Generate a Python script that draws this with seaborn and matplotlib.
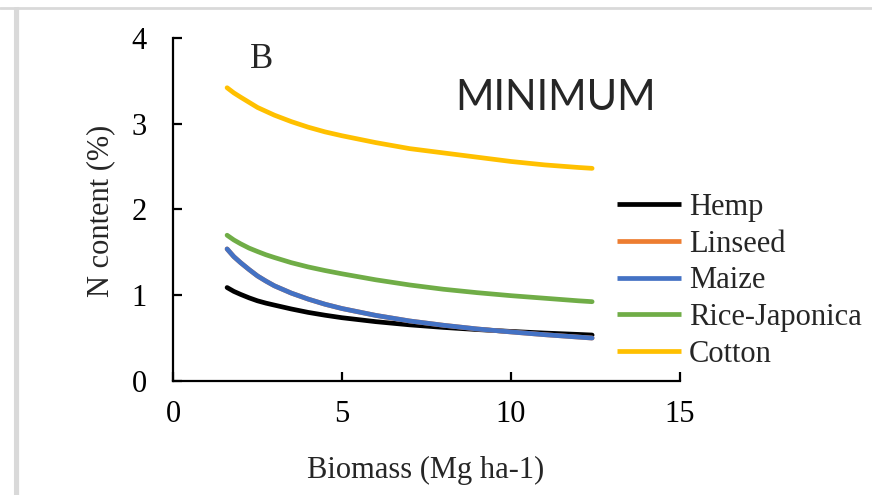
import numpy as np
import pandas as pd
import matplotlib
matplotlib.use("Agg")
import matplotlib.pyplot as plt
from matplotlib.lines import Line2D
import seaborn as sns

# ---- data ----
biomass = [1.6, 1.8, 2.0, 2.25, 2.5, 2.75, 3.0, 3.5, 4.0, 4.5, 5.0, 6.0, 7.0, 8.0, 9.0, 10.0, 11.0, 12.0, 12.4]
hemp = [1.09, 1.045, 1.01, 0.97, 0.935, 0.908, 0.885, 0.840, 0.80, 0.767, 0.738, 0.692, 0.655, 0.625, 0.600, 0.578, 0.559, 0.543, 0.536]
linseed = [1.54, 1.45, 1.38, 1.30, 1.225, 1.165, 1.11, 1.025, 0.955, 0.895, 0.845, 0.765, 0.700, 0.650, 0.607, 0.572, 0.540, 0.512, 0.501]
maize = [1.54, 1.45, 1.38, 1.30, 1.225, 1.165, 1.11, 1.025, 0.955, 0.895, 0.845, 0.765, 0.700, 0.650, 0.607, 0.572, 0.540, 0.512, 0.501]
rice_japonica = [1.70, 1.645, 1.60, 1.55, 1.51, 1.472, 1.44, 1.38, 1.33, 1.288, 1.25, 1.18, 1.12, 1.07, 1.03, 0.995, 0.965, 0.935, 0.925]
cotton = [3.42, 3.36, 3.31, 3.25, 3.19, 3.145, 3.10, 3.025, 2.96, 2.905, 2.86, 2.78, 2.71, 2.66, 2.61, 2.56, 2.52, 2.49, 2.48]

series_names = ["Hemp", "Linseed", "Maize", "Rice-Japonica", "Cotton"]
series_colors = ["#000000", "#ED7D31", "#4472C4", "#70AD47", "#FFC000"]
x_ticks = [0, 5, 10, 15]
y_ticks = [0, 1, 2, 3, 4]

df = pd.concat([
    pd.DataFrame({"Biomass": biomass, "N": vals, "Crop": name})
    for name, vals in zip(series_names, [hemp, linseed, maize, rice_japonica, cotton])
], ignore_index=True)

sns.set_style("white")
plt.rcParams["font.family"] = ["Liberation Serif", "DejaVu Serif"]

W, H = 872, 495
fig = plt.figure(figsize=(W / 100, H / 100), dpi=100)
ax = fig.add_axes([173 / W, 1 - 381 / H, 507 / W, 343 / H])

sns.lineplot(data=df, x="Biomass", y="N", hue="Crop", hue_order=series_names,
             palette=series_colors, linewidth=3.4, legend=False, ax=ax,
             solid_capstyle="round", solid_joinstyle="round")

ax.set_xlim(0, 15)
ax.set_ylim(0, 4)
ax.set_xticks(x_ticks)
ax.set_yticks(y_ticks)
ax.set_xticklabels([str(t) for t in x_ticks])
ax.set_yticklabels([str(t) for t in y_ticks])
ax.set_xlabel("")
ax.set_ylabel("")
for s in ["top", "right"]:
    ax.spines[s].set_visible(False)
for s in ["left", "bottom"]:
    ax.spines[s].set_color("black")
    ax.spines[s].set_linewidth(1.6)
ax.tick_params(axis="both", which="major", bottom=True, left=True, direction="in",
               length=6.5, width=1.6, color="black", labelsize=22, labelcolor="black")
ax.tick_params(axis="x", pad=14)
ax.tick_params(axis="y", pad=19)

fs = 22
fig.text(426 / W, 1 - 478 / H, "Biomass (Mg ha-1)", ha="center", va="baseline", fontsize=fs)
fig.text(101 / W, 1 - 211 / H, "N content (%)", ha="center", va="center", rotation=90, fontsize=fs)
fig.text(250 / W, 1 - 68 / H, "B", ha="left", va="baseline", fontsize=25)
fig.text(455 / W, 1 - 110 / H, "MINIMUM", ha="left", va="baseline", fontsize=30,
         family=["Lato", "DejaVu Sans"])

handles = ax.get_lines()[:len(series_names)]
leg = ax.legend(handles, series_names, loc="upper left",
                bbox_to_anchor=(617 / W, 1 - 193 / H), bbox_transform=fig.transFigure,
                frameon=False, fontsize=fs, handlelength=2.1, handletextpad=0.25,
                labelspacing=0.25, borderpad=0, borderaxespad=0)
for lh in leg.get_lines():
    lh.set_linewidth(3.4)
    lh.set_solid_capstyle("butt")

# surrounding grey frame lines of the original screenshot
grey = "#d9d9d9"
fig.add_artist(Line2D([0, 1], [1 - 8 / H, 1 - 8 / H], transform=fig.transFigure, color=grey, lw=2))
fig.add_artist(Line2D([14.5 / W, 14.5 / W], [0, 1 - 8 / H], transform=fig.transFigure, color=grey, lw=2.2))
fig.add_artist(Line2D([18.3 / W, 18.3 / W], [0, 1 - 8 / H], transform=fig.transFigure, color=grey, lw=1.6))

fig.savefig("out.png", dpi=100)
